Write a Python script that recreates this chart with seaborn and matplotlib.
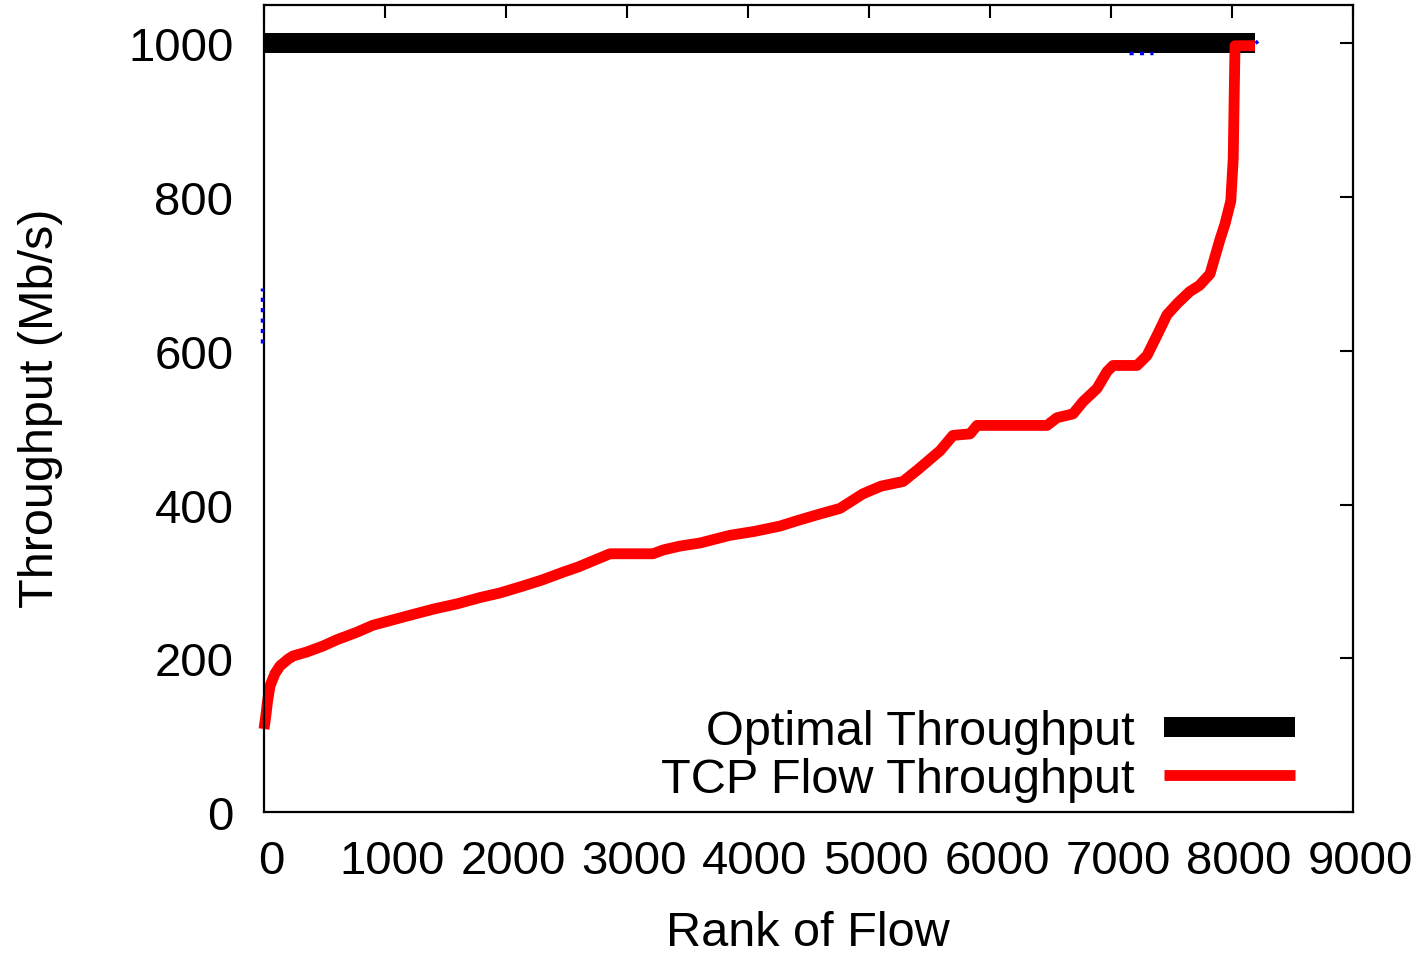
import numpy as np
import pandas as pd
import matplotlib
matplotlib.use("Agg")
import matplotlib.pyplot as plt
import matplotlib.transforms as mtransforms
import seaborn as sns

# ---- data ----
tcp_rank = [0, 15, 30, 50, 90, 132, 200, 240, 350, 488, 600, 769, 900, 1041, 1207,
            1400, 1600, 1785, 1950, 2140, 2300, 2471, 2600, 2752, 2860, 3215, 3300,
            3438, 3603, 3851, 4050, 4264, 4405, 4600, 4760, 4950, 5100, 5281, 5400,
            5587, 5694, 5835, 5893, 6471, 6554, 6686, 6769, 6884, 6967, 7017, 7215,
            7298, 7380, 7463, 7550, 7650, 7730, 7818, 7901, 7942, 7990, 8010, 8020,
            8025, 8190]
tcp_tput = [108, 125, 145, 164, 180, 190, 199, 203, 208, 216, 224, 234, 243, 249, 256,
            264, 271, 279, 285, 294, 302, 312, 319, 329, 336, 336, 341,
            346, 350, 360, 365, 372, 379, 388, 395, 414, 424, 430, 445,
            470, 490, 492, 503, 503, 513, 518, 534, 551, 573, 581, 581,
            594, 620, 647, 662, 677, 685, 700, 745, 765, 795, 850, 950,
            997, 997]

opt_rank = [0, 8190]
opt_tput = [1000, 1000]

blue_segments_rank = [[-20, -20], [7150, 7350], [8195, 8215]]
blue_segments_tput = [[610, 682], [988, 988], [1000, 1003]]

x_ticks = [0, 1000, 2000, 3000, 4000, 5000, 6000, 7000, 8000, 9000]
y_ticks = [0, 200, 400, 600, 800, 1000]

label_opt = "Optimal Throughput"
label_tcp = "TCP Flow Throughput"
xlabel = "Rank of Flow"
ylabel = "Throughput (Mb/s)"

# ---- styling ----
sns.set_style("white")
plt.rcParams['font.family'] = ['Liberation Sans', 'DejaVu Sans']
plt.rcParams['text.color'] = 'black'
plt.rcParams['axes.labelcolor'] = 'black'
plt.rcParams['xtick.color'] = 'black'
plt.rcParams['ytick.color'] = 'black'

W, H, DPI = 1420, 954, 100
fig = plt.figure(figsize=(W / DPI, H / DPI), dpi=DPI)
ax = fig.add_axes([264 / W, 1 - 813 / H, (1353 - 264) / W, (813 - 6) / H])

df_opt = pd.DataFrame({"rank": opt_rank, "tput": opt_tput})
df_tcp = pd.DataFrame({"rank": tcp_rank, "tput": tcp_tput})

sns.lineplot(data=df_opt, x="rank", y="tput", ax=ax, color="black", linewidth=14.4,
             label=label_opt, estimator=None, sort=False, solid_capstyle="butt")
for br, bt in zip(blue_segments_rank, blue_segments_tput):
    ax.plot(br, bt, color="blue", linewidth=2.5, linestyle=(0, (1.2, 1.8)),
            clip_on=False, zorder=3)
sns.lineplot(data=df_tcp, x="rank", y="tput", ax=ax, color="red", linewidth=7.8,
             label=label_tcp, estimator=None, sort=False, solid_capstyle="butt",
             solid_joinstyle="round")
for ln in ax.get_lines():
    ln.set_clip_on(False)

ax.set_xlim(0, 9000)
ax.set_ylim(0, 1050)
ax.set_xticks(x_ticks)
ax.set_yticks(y_ticks)
ax.set_xlabel("")
ax.set_ylabel("")

for s in ax.spines.values():
    s.set_linewidth(1.6)
    s.set_color("black")

ax.tick_params(axis="both", direction="in", length=9.4, width=1.5, colors="black",
               labelcolor="black", top=True, right=True, labelsize=34)
ax.tick_params(axis="x", pad=19.5)
ax.tick_params(axis="y", pad=22)

off = mtransforms.ScaledTranslation(7 / DPI, 0, fig.dpi_scale_trans)
for lab in ax.get_xticklabels():
    lab.set_transform(lab.get_transform() + off)

fig.text(808 / W, 1 - 946 / H, xlabel, ha="center", va="baseline", fontsize=35,
         color="black")
fig.text(53 / W, 1 - 408 / H, ylabel, ha="center", va="baseline", rotation=90,
         rotation_mode="anchor", fontsize=35, color="black")

leg = ax.legend(loc="lower right", bbox_to_anchor=((1295 - 264) / 1089, 0.012),
                markerfirst=False, frameon=False, fontsize=35, handlelength=2.7,
                handletextpad=0.6, labelspacing=0.07, borderpad=0, borderaxespad=0)
for t in leg.get_texts():
    t.set_ha("right")
    t.set_color("black")

fig.savefig("out.png", dpi=DPI)
